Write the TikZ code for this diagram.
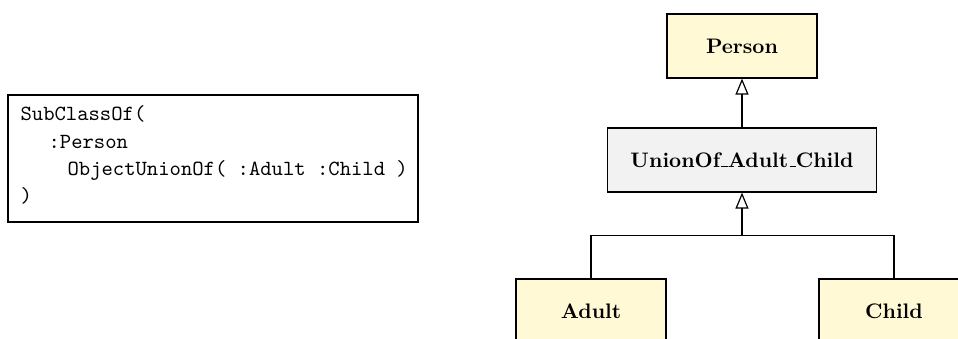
\documentclass[tikz,border=0pt]{standalone}
\usetikzlibrary{arrows.meta}
\definecolor{classyellow}{HTML}{FFF9D6}
\definecolor{classgrey}{HTML}{F2F2F2}
% kurzer Unterstrich wie in OT1
\newcommand\lowbar{\leavevmode\kern.06em\vbox{\hrule width.3em}}
\begin{document}
\begin{tikzpicture}[x=0.5pt, y=-0.5pt, line width=0.6pt,
		classbox/.style={draw, fill=classyellow, minimum width=75pt, minimum height=32pt,
			font=\fontsize{10.5}{12}\selectfont\bfseries},
		unionbox/.style={classbox, fill=classgrey, minimum width=134.5pt},
		isa/.style={-{Triangle[open, length=8pt, width=6.5pt]}},
		code/.style={anchor=base west, inner sep=0pt, font=\fontsize{10.8}{13}\selectfont\ttfamily}]
	% Rahmen des Bildes
	\useasboundingbox (0,0) rectangle (958,338);
	\clip (0,0) rectangle (958,338);
	
	% --- Axiom (links) ---
	\node[draw, minimum width=205pt, minimum height=63.5pt, inner sep=0pt] (axiom) at (213,158.5) {};
	\node[code] (l1) at (20,120) {SubClassOf(};
	\node[code] (l2) at (48,148) {:Person};
	\node[code] (l3) at (67,175) {ObjectUnionOf( :Adult :Child )};
	\node[code] (l4) at (20,202) {)};
	
	% --- Klassen (rechts) ---
	\node[classbox] (person) at (742,46) {Person};
	\node[unionbox] (union) at (742,160) {UnionOf\lowbar Adult\lowbar Child};
	\node[classbox] (adult) at (591,311) {Adult};
	\node[classbox] (child) at (894,311) {Child};
	
	% --- Verbindungen ---
	\coordinate (fork) at (742,235.5);
	\draw[isa] (union) -- (person);
	\draw (adult.north) |- (fork) -| (child.north);
	\draw[isa] (fork) -- (union.south);
\end{tikzpicture}
\end{document}
